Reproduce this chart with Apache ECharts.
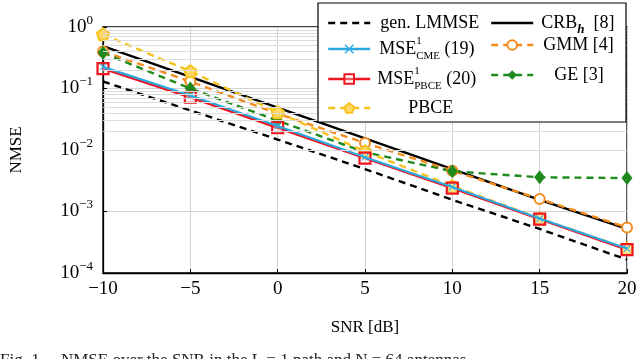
<!DOCTYPE html>
<html>
<head>
<meta charset="utf-8">
<script src="https://cdn.jsdelivr.net/npm/echarts@6/dist/echarts.min.js"></script>
<style>
  html, body { margin: 0; padding: 0; background: #fff; }
  #chart { width: 640px; height: 359px; }
</style>
</head>
<body>
<div id="chart"></div>
<script>
// data (NMSE vs SNR)
const snr = [-10, -5, 0, 5, 10, 15, 20]
const genLmmse = [0.13, 0.044, 0.0148, 0.0049, 0.00155, 0.00052, 0.000165]
const crb = [0.49, 0.155, 0.049, 0.0155, 0.0049, 0.00155, 0.00052]
const mseCme = [0.225, 0.077, 0.0245, 0.0076, 0.0025, 0.00077, 0.00025]
const msePbce = [0.21, 0.072, 0.023, 0.0074, 0.0024, 0.00075, 0.00024]
const gmm = [0.40, 0.13, 0.039, 0.013, 0.0046, 0.0016, 0.00055]
const ge = [0.38, 0.10, 0.030, 0.0092, 0.0045, 0.0036, 0.0035]
const pbce = [0.76, 0.19, 0.041, 0.0095, 0.0026, 0.00077, 0.00025]

const FONT = '"Liberation Serif", "DejaVu Serif", serif'
const C = {
  blue: '#2aa9e0',
  red: '#f0141e',
  orange: '#f58a1f',
  green: '#1e8a1e',
  yellow: '#f7c21b'
}

// minor log grid: 2..9 x 10^k
const minorLines = []
for (let k = -4; k < 0; k++) {
  for (let m = 2; m <= 9; m++) minorLines.push({ yAxis: m * Math.pow(10, k) })
}

const pts = (arr) => snr.map((x, i) => [x, arr[i]])

const crossPath = 'path://M1,0L5,4L9,0L10,1L6,5L10,9L9,10L5,6L1,10L0,9L4,5L0,1Z'
const pentPath = 'path://M5,0L10,3.8L8.1,10L1.9,10L0,3.8Z'

const chart = echarts.init(document.getElementById('chart'))

const sup = { fontFamily: FONT, fontSize: 11, verticalAlign: 'top', color: '#000' }
const sub = { fontFamily: FONT, fontSize: 11, verticalAlign: 'bottom', color: '#000' }
const base = { fontFamily: FONT, fontSize: 18, color: '#000', lineHeight: 26 }

const legendNames = {
  'gen. LMMSE': '{b|gen. LMMSE}',
  'CRB': '{b|CRB}{hi|h}{b|  [8]}',
  'CME': '{b|MSE}{up|1}{dn|CME}{b| (19)}',
  'GMM': '{b|GMM [4]}',
  'P20': '{b|MSE}{up|1}{dn|PBCE}{b| (20)}',
  'GE': '{b|GE [3]}',
  'PBCE': '{b|PBCE}'
}

const legendRich = {
  b: base,
  up: Object.assign({}, sup, { width: 0 }),
  dn: sub,
  hi: { fontFamily: FONT, fontSize: 13, fontStyle: 'italic', fontWeight: 'bold', verticalAlign: 'bottom', color: '#000' }
}

const mkLegend = (name, left, top, padLeft, noMark) => {
  const item = { name: name, lineStyle: { width: 2.4 } }
  if (noMark) item.itemStyle = { opacity: 0 }
  return {
    data: [item],
    left: left,
    top: top,
    padding: 0,
    itemWidth: 42,
    itemHeight: 12,
    z: 12,
    selectedMode: false,
    formatter: (n) => legendNames[n],
    textStyle: { fontFamily: FONT, fontSize: 18, color: '#000', padding: [0, 0, 0, padLeft], rich: legendRich }
  }
}

const line = (name, data, color, opts) => Object.assign({
  name: name,
  type: 'line',
  data: pts(data),
  color: color,
  lineStyle: { color: color, width: 2.4 },
  showSymbol: true,
  symbolSize: 9,
  animation: false,
  z: 2
}, opts)

const option = {
  animation: false,
  backgroundColor: '#fff',
  grid: {
    left: 101, right: 13, top: 27, bottom: 86,
    show: true, borderColor: '#000', borderWidth: 1.3, backgroundColor: 'transparent'
  },
  graphic: [
    {
      type: 'rect', z: 10,
      shape: { x: 318, y: 3, width: 308, height: 119 },
      style: { fill: '#fff', stroke: '#000', lineWidth: 1.2 }
    },
    {
      type: 'text', left: 0, top: 352,
      style: { text: 'Fig. 1.    NMSE over the SNR in the L = 1 path and N = 64 antennas', font: '17px ' + FONT, fill: '#222' }
    }
  ],
  legend: [
    mkLegend('gen. LMMSE', 327, 14, 5, true),
    mkLegend('CME', 327, 36, 4),
    mkLegend('P20', 327, 66, 2),
    mkLegend('PBCE', 327, 99, 33),
    mkLegend('CRB', 490, 14, 3, true),
    mkLegend('GMM', 490, 36, 5),
    mkLegend('GE', 490, 66, 16)
  ],
  xAxis: {
    type: 'value',
    min: -10, max: 20, interval: 5,
    name: 'SNR [dB]',
    nameLocation: 'middle',
    nameGap: 46,
    nameTextStyle: { fontFamily: FONT, fontSize: 17, color: '#000' },
    axisLine: { show: true, onZero: false, lineStyle: { color: '#000', width: 1.3 } },
    axisTick: { show: true, inside: true, length: 4, lineStyle: { color: '#000' } },
    axisLabel: {
      fontFamily: FONT, fontSize: 19, color: '#000', margin: 7,
      formatter: (v) => v < 0 ? '\u2212' + Math.abs(v) : String(v)
    },
    splitLine: { show: true, lineStyle: { color: '#d2d2d2', width: 1 } }
  },
  yAxis: {
    type: 'log',
    logBase: 10,
    min: 1e-4, max: 1,
    name: 'NMSE',
    nameLocation: 'middle',
    nameGap: 78,
    nameRotate: 90,
    nameTextStyle: { fontFamily: FONT, fontSize: 17, color: '#000' },
    axisLine: { show: true, onZero: false, lineStyle: { color: '#000', width: 1.3 } },
    axisTick: { show: true, inside: true, length: 4, lineStyle: { color: '#000' } },
    axisLabel: {
      margin: 10,
      formatter: (v) => {
        const e = Math.round(Math.log10(v))
        return '{b|10}{e|' + (e < 0 ? '\u2212' + (-e) : e) + '}'
      },
      rich: {
        b: { fontFamily: FONT, fontSize: 19, color: '#000', lineHeight: 26 },
        e: { fontFamily: FONT, fontSize: 13, color: '#000', verticalAlign: 'top' }
      }
    },
    splitLine: { show: true, lineStyle: { color: '#d2d2d2', width: 1 } }
  },
  series: [
    {
      name: 'minor', type: 'line', data: [], silent: true, z: 1,
      markLine: {
        silent: true, symbol: 'none', animation: false,
        label: { show: false },
        lineStyle: { color: '#dcdcdc', width: 1, type: 'solid' },
        data: minorLines
      }
    },
    line('gen. LMMSE', genLmmse, '#000', {
      showSymbol: false, symbol: 'none',
      lineStyle: { color: '#000', width: 2.4, type: [7, 5] }
    }),
    line('CRB', crb, '#000', {
      showSymbol: false, symbol: 'none',
      lineStyle: { color: '#000', width: 2.4 }
    }),
    line('GMM', gmm, C.orange, {
      symbol: 'emptyCircle', symbolSize: 10,
      lineStyle: { color: C.orange, width: 2.4, type: [7, 5] },
      itemStyle: { color: C.orange, borderColor: C.orange, borderWidth: 2.2 }
    }),
    line('GE', ge, C.green, {
      symbol: 'diamond', symbolSize: [11, 14],
      lineStyle: { color: C.green, width: 2.4, type: [7, 5] },
      itemStyle: { color: C.green }
    }),
    line('PBCE', pbce, C.yellow, {
      symbol: pentPath, symbolSize: 12,
      lineStyle: { color: C.yellow, width: 2.4, type: [7, 5] },
      itemStyle: { color: '#ffd866', borderColor: C.yellow, borderWidth: 2 }
    }),
    line('P20', msePbce, C.red, {
      symbol: 'rect', symbolSize: 11,
      lineStyle: { color: C.red, width: 2.4 },
      itemStyle: { color: 'rgba(255,255,255,0.3)', borderColor: C.red, borderWidth: 2.2 }
    }),
    line('CME', mseCme, C.blue, {
      symbol: crossPath, symbolSize: 7, z: 4,
      lineStyle: { color: C.blue, width: 2.2 },
      itemStyle: { color: C.blue }
    })
  ]
}

chart.setOption(option)

window.addEventListener('resize', () => {
  chart.resize()
})
</script>
</body>
</html>
